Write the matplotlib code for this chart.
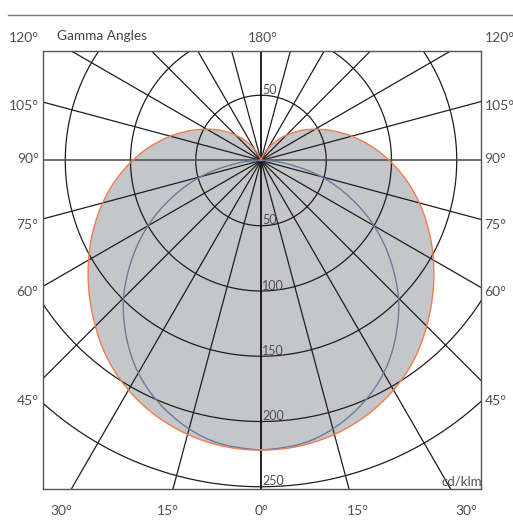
import numpy as np
import matplotlib
matplotlib.use("Agg")
import matplotlib.pyplot as plt

# ---- data (cd/klm) ----
gamma_c0 = [0, 5, 10, 15, 20, 25, 30, 35, 40, 45, 50, 55, 60, 65, 70, 75, 80, 85, 90,
            95, 100, 105, 110, 115, 120, 125, 130, 135, 140, 145, 150, 155, 160, 165, 170, 175, 180]
inten_c0 = [222, 221.5, 219.9, 217.3, 213.6, 208.9, 203.1, 196.3, 188.4, 179.5, 170.6, 161.6, 152.6,
            143.6, 134.6, 125.6, 116.6, 107.5, 98.4,
            89.5, 80.5, 72, 63.5, 55.5, 48, 41, 34, 27.5, 21.5, 15.5, 10, 6, 3, 1, 0, 0, 0]
gamma_c90 = [0, 10, 20, 30, 40, 45, 50, 60, 70, 75, 80, 85, 90]
inten_c90 = [222, 218, 206, 188, 163, 149, 133, 100, 65, 48, 29, 14, 0]

ring_values = [50, 100, 150, 200, 250]
ring_labels_below = ["50", "100", "150", "200", "250"]
ring_label_above = "50"
angle_lines = list(range(0, 181, 15))
left_labels = ["120°", "105°", "90°", "75°", "60°", "45°"]
left_label_y = [37.5, 105.5, 159, 225, 292.5, 401]
bottom_labels = ["30°", "15°", "0°", "15°", "30°"]
bottom_label_x = [61, 168, 261.5, 358, 466]

W, H = 513, 520
fig = plt.figure(figsize=(W / 100, H / 100), dpi=100)
plt.rcParams['font.family'] = ['Lato', 'DejaVu Sans']
TXT = '#505050'
ASZ = 10

# axes box in pixels
L, R, T, B = 43, 481, 51, 489
cx, cy = 261, 160.5
scale = 1.305  # px per cd/klm
ax = fig.add_axes([L / W, 1 - B / H, (R - L) / W, (B - T) / H])
ax.set_xlim((L - cx) / scale, (R - cx) / scale)
ax.set_ylim(-(B - cy) / scale, (cy - T) / scale)
ax.set_aspect('auto')
ax.set_xticks([])
ax.set_yticks([])
for s in ax.spines.values():
    s.set_color('#555555')
    s.set_linewidth(1.0)
    s.set_zorder(10)


def hermite(xk, yk, xn):
    xk = np.asarray(xk, float)
    yk = np.asarray(yk, float)
    m = np.gradient(yk, xk)
    idx = np.clip(np.searchsorted(xk, xn) - 1, 0, len(xk) - 2)
    h = xk[idx + 1] - xk[idx]
    t = (xn - xk[idx]) / h
    h00 = 2 * t**3 - 3 * t**2 + 1
    h10 = t**3 - 2 * t**2 + t
    h01 = -2 * t**3 + 3 * t**2
    h11 = t**3 - t**2
    out = h00 * yk[idx] + h10 * h * m[idx] + h01 * yk[idx + 1] + h11 * h * m[idx + 1]
    return np.maximum(out, 0)


def polar_xy(g, r, side):
    g = np.radians(np.asarray(g, float))
    r = np.asarray(r, float)
    return side * r * np.sin(g), -r * np.cos(g)


def closed_curve(g, r):
    xr, yr = polar_xy(g, r, 1)
    xl, yl = polar_xy(g[::-1], r[::-1], -1)
    return np.concatenate([xr, xl]), np.concatenate([yr, yl])


gg = np.linspace(0, 180, 1441)
rr0 = hermite(gamma_c0, inten_c0, gg)
x0, y0 = closed_curve(gg, rr0)
gg9 = np.linspace(0, 90, 721)
rr9 = hermite(gamma_c90, inten_c90, gg9)
x9, y9 = closed_curve(gg9, rr9)

ax.fill(x0, y0, color='#c5c6ca', zorder=1, lw=0)

# grid circles
t = np.linspace(0, 2 * np.pi, 721)
for rv in ring_values:
    ax.plot(rv * np.cos(t), rv * np.sin(t), color='#1e1e1e', lw=0.9, zorder=2)
# radial lines
for a in angle_lines:
    if a in (0, 90, 180):
        continue
    for side in (1, -1):
        xs, ys = polar_xy([a, a], [0, 600], side)
        ax.plot(xs, ys, color='#1e1e1e', lw=0.9, zorder=2)
ax.axhline(0, color='#555555', lw=1.2, zorder=3)
ax.axvline(0, color='#111111', lw=1.3, zorder=3)

ax.plot(x9, y9, color='#6a7ba0', lw=1.0, zorder=4)
ax.plot(x0, y0, color='#f07d4e', lw=1.0, zorder=5)

# ring labels
for rv, lab in zip(ring_values, ring_labels_below):
    ax.text(1.0, -rv + 1.0, lab, fontsize=9, color=TXT, ha='left', va='baseline', zorder=6)
ax.text(1.0, 50 + 1.0, ring_label_above, fontsize=9, color=TXT, ha='left', va='baseline', zorder=6)


def ftxt(x, y, s, **kw):
    fig.text(x / W, 1 - y / H, s, **kw)


for lab, y in zip(left_labels, left_label_y):
    ftxt(38.5, y, lab, ha='right', va='center', fontsize=ASZ, color=TXT)
    ftxt(484.5, y, lab, ha='left', va='center', fontsize=ASZ, color=TXT)
for lab, x in zip(bottom_labels, bottom_label_x):
    ftxt(x, 511, lab, ha='center', va='center', fontsize=ASZ, color=TXT)
ftxt(263, 37.5, "180°", ha='center', va='center', fontsize=ASZ, color=TXT)
ftxt(57, 36, "Gamma Angles", ha='left', va='center', fontsize=9.8, color='#444444')
ftxt(482.5, 481, "cd/klm", ha='right', va='center', fontsize=9.5, color=TXT, zorder=20)

# top rule
fig.add_artist(plt.Line2D([8 / W, 513 / W], [1 - 14.5 / H, 1 - 14.5 / H], color='#777777', lw=1.0))

fig.savefig('out.png', dpi=100)
